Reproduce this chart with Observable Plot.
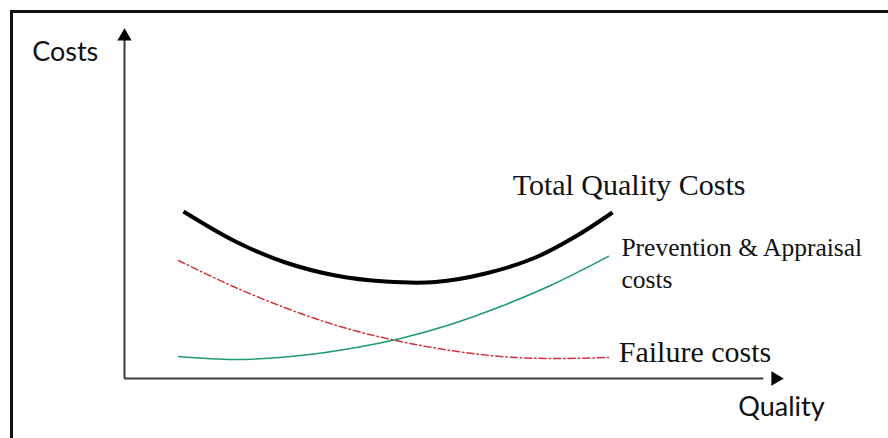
<!DOCTYPE html>
<html>
<head>
<meta charset="utf-8">
<script src="https://cdn.jsdelivr.net/npm/d3@7"></script>
<script src="https://cdn.jsdelivr.net/npm/@observablehq/plot@0.6"></script>
<style>
  html, body { margin: 0; padding: 0; background: #fff; }
  #wrap { position: relative; width: 888px; height: 438px; overflow: hidden; }
  #frame { position: absolute; left: 10px; top: 10px; width: 900px; height: 500px;
           border-top: 3px solid #111; border-left: 3px solid #111; box-sizing: border-box; }
  #chart { position: absolute; left: 0; top: 0; }
</style>
</head>
<body>
<div id="wrap"><div id="frame"></div><div id="chart"></div></div>
<script>
// Quality (x) positions at which the curves were read
const qualityX = [8.19, 16.84, 26.71, 34.29, 41.88, 49.47, 57.06, 64.64, 73.44];
const preventY = [6.29, 5.43, 6.57, 8.57, 11.43, 15.43, 20.57, 26.57, 34.9];
const failureY = [33.71, 26.0, 18.57, 14.0, 10.57, 8.0, 6.29, 5.71, 6.0];
const totalX   = [8.95, 16.84, 24.43, 32.02, 39.61, 47.19, 54.78, 62.37, 68.44, 74.05];
const totalY   = [47.71, 39.14, 33.14, 29.43, 27.71, 27.57, 30.0, 34.57, 40.57, 47.43];

const seriesNames = ["Total Quality Costs", "Prevention & Appraisal\ncosts", "Failure costs"];
const axisTitles = ["Costs", "Quality"];

const zip = (xs, ys) => xs.map((x, i) => ({x, y: ys[i]}));
const total = zip(totalX, totalY);
const prevent = zip(qualityX, preventY);
const failure = zip(qualityX, failureY);

const serif = "'Liberation Serif', 'Times New Roman', serif";
const sans = "Lato, 'Open Sans', sans-serif";

const plot = Plot.plot({
  width: 888,
  height: 438,
  marginLeft: 124,
  marginRight: 105,
  marginTop: 28,
  marginBottom: 60,
  x: {domain: [0, 100], axis: null},
  y: {domain: [0, 100], axis: null},
  style: {background: "transparent", overflow: "visible"},
  marks: [
    // axes
    Plot.ruleX([0], {y1: 0, y2: 97, stroke: "#3a3a3a", strokeWidth: 2}),
    Plot.ruleY([0], {x1: 0, x2: 97, stroke: "#3a3a3a", strokeWidth: 2}),
    Plot.dot([{x: 0, y: 100}], {x: "x", y: "y", dy: 8, symbol: "triangle", r: 5.3, fill: "#000", stroke: "none"}),
    Plot.dot([{x: 100, y: 0}], {x: "x", y: "y", dx: -8, symbol: "triangle", rotate: 90, r: 5.3, fill: "#000", stroke: "none"}),
    // curves
    Plot.line(failure, {x: "x", y: "y", curve: "catmull-rom", stroke: "#d0343a", strokeWidth: 1.5, strokeDasharray: "7,3,1.5,3"}),
    Plot.line(prevent, {x: "x", y: "y", curve: "catmull-rom", stroke: "#1f9a6a", strokeWidth: 1.6}),
    Plot.line(total, {x: "x", y: "y", curve: "catmull-rom", stroke: "#000", strokeWidth: 4, strokeLinecap: "butt"}),
    // labels
    Plot.text([seriesNames[0]], {x: 58.9, y: 55.1, textAnchor: "start", fontFamily: serif, fontSize: 30, fill: "#111"}),
    Plot.text([seriesNames[1]], {x: 75.4, y: 37.1, textAnchor: "start", lineAnchor: "top", dy: -15, lineHeight: 1.25, fontFamily: serif, fontSize: 25.5, fill: "#111"}),
    Plot.text([seriesNames[2]], {x: 75.0, y: 7.4, textAnchor: "start", fontFamily: serif, fontSize: 30, fill: "#111"}),
    Plot.text([axisTitles[0]], {x: -9.0, y: 93.1, fontFamily: sans, fontSize: 27, fill: "#111"}),
    Plot.text([axisTitles[1]], {x: 99.7, y: -8.3, fontFamily: sans, fontSize: 27, fill: "#111"})
  ]
});
document.getElementById("chart").appendChild(plot);
</script>
</body>
</html>
